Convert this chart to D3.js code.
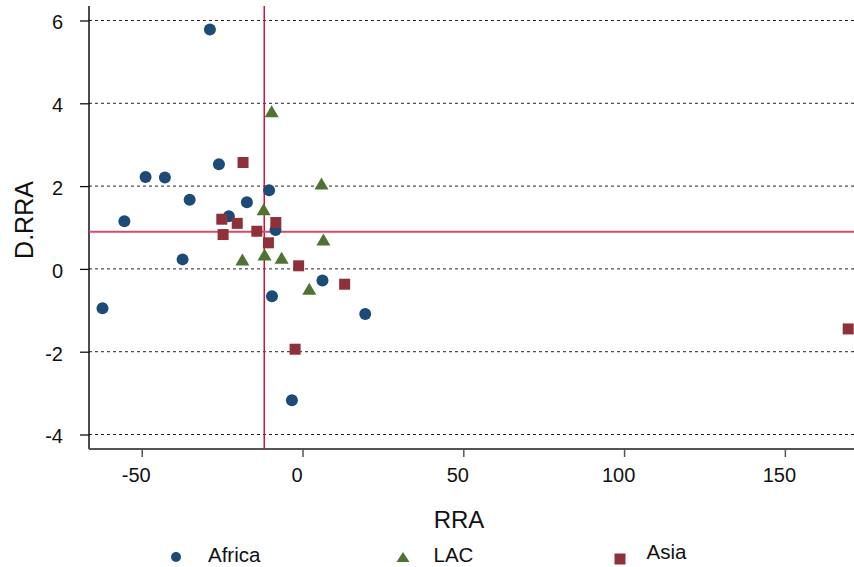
<!DOCTYPE html>
<html>
<head>
<meta charset="utf-8">
<script src="https://cdn.jsdelivr.net/npm/d3@7"></script>
<style>
  html, body { margin: 0; padding: 0; background: #fff; }
  svg { display: block; font-family: "Liberation Sans", Arial, sans-serif; }
</style>
</head>
<body>
<svg id="chart" width="854" height="567"></svg>
<script>
// ---- Data ----
const africaX = [-28.8, -26.0, -48.8, -42.8, -35.1, -55.4, -17.3, -10.4, -22.9, -8.4, -37.3, -62.2, -9.5, 6.2, 19.5, -3.3];
const africaY = [5.78, 2.53, 2.22, 2.21, 1.67, 1.15, 1.61, 1.90, 1.27, 0.94, 0.23, -0.95, -0.66, -0.28, -1.09, -3.17];

const lacX = [-9.6, 5.9, -12.1, 6.5, -18.7, -11.8, -6.5, 2.1];
const lacY = [3.81, 2.06, 1.44, 0.71, 0.23, 0.35, 0.27, -0.48];

const asiaX = [-18.5, -25.1, -20.3, -8.3, -24.7, -14.2, -10.6, -1.2, 13.1, -2.3, 169.7];
const asiaY = [2.57, 1.20, 1.10, 1.12, 0.83, 0.91, 0.63, 0.075, -0.37, -1.94, -1.45];

const xTicks = [-50, 0, 50, 100, 150];
const yTicks = [-4, -2, 0, 2, 4, 6];
const seriesNames = ["Africa", "LAC", "Asia"];
const meanRRA = -11.9;   // vertical reference line
const meanDRRA = 0.90;   // horizontal reference line

// ---- Layout ----
const svg = d3.select("#chart");
const pL = 89, pR = 854, pT = 6, pB = 449;
const x = d3.scaleLinear().domain([-66.4, 171.5]).range([pL, pR]);
const y = d3.scaleLinear().domain([-4.35, 6.35]).range([pB, pT]);

const colors = { Africa: "#1c4b78", LAC: "#4f7330", Asia: "#8f3139" };
const fmt = d => String(d);   // plain hyphen-minus like the reference

// gridlines
svg.append("g").selectAll("line").data(yTicks).join("line")
  .attr("x1", pL).attr("x2", pR)
  .attr("y1", d => y(d)).attr("y2", d => y(d))
  .attr("stroke", "#222").attr("stroke-width", 1)
  .attr("stroke-dasharray", "3,3");

// y axis
const yAxis = d3.axisLeft(y).tickValues(yTicks).tickSize(9).tickPadding(17).tickFormat(fmt);
const gy = svg.append("g").attr("transform", `translate(${pL},0)`).call(yAxis);
gy.select(".domain").remove();
gy.selectAll(".tick line").attr("stroke", "#111").attr("stroke-width", 1.3);
gy.selectAll(".tick text").attr("font-size", 20).attr("fill", "#111").attr("dy", "0.42em")
  .attr("font-family", "Liberation Sans, Arial, sans-serif");
svg.append("line").attr("x1", pL).attr("x2", pL).attr("y1", pT).attr("y2", pB)
  .attr("stroke", "#111").attr("stroke-width", 1.5);

// x axis
const xAxis = d3.axisBottom(x).tickValues(xTicks).tickSize(8).tickPadding(0).tickFormat(fmt);
const gx = svg.append("g").attr("transform", `translate(0,${pB})`).call(xAxis);
gx.select(".domain").remove();
gx.selectAll(".tick line").attr("stroke", "#555").attr("stroke-width", 1.5);
gx.selectAll(".tick text").attr("font-size", 20).attr("fill", "#111")
  .attr("font-family", "Liberation Sans, Arial, sans-serif")
  .attr("dy", null).attr("y", 33).attr("dx", -6);
svg.append("line").attr("x1", pL).attr("x2", pR).attr("y1", pB).attr("y2", pB)
  .attr("stroke", "#555").attr("stroke-width", 2.2);

// reference lines
svg.append("line").attr("x1", x(meanRRA)).attr("x2", x(meanRRA)).attr("y1", pT).attr("y2", pB)
  .attr("stroke", "#d6123c").attr("stroke-width", 1.5);
svg.append("line").attr("x1", pL).attr("x2", pR).attr("y1", y(meanDRRA)).attr("y2", y(meanDRRA))
  .attr("stroke", "#d84a6c").attr("stroke-width", 2);

// markers
const tri = (w, h) => `M0,${-h/2}L${w/2},${h/2}L${-w/2},${h/2}Z`;

svg.append("g").selectAll("circle").data(d3.zip(africaX, africaY)).join("circle")
  .attr("cx", d => x(d[0])).attr("cy", d => y(d[1])).attr("r", 6)
  .attr("fill", colors.Africa);

svg.append("g").selectAll("path").data(d3.zip(lacX, lacY)).join("path")
  .attr("d", tri(14, 12))
  .attr("transform", d => `translate(${x(d[0])},${y(d[1])})`)
  .attr("fill", colors.LAC);

svg.append("g").selectAll("rect").data(d3.zip(asiaX, asiaY)).join("rect")
  .attr("x", d => x(d[0]) - 5.5).attr("y", d => y(d[1]) - 5.5)
  .attr("width", 11).attr("height", 11)
  .attr("fill", colors.Asia);

// axis titles
svg.append("text").attr("x", 459).attr("y", 528).attr("text-anchor", "middle")
  .attr("font-size", 24).attr("fill", "#111").text("RRA");
svg.append("text").attr("transform", "translate(33,220) rotate(-90)").attr("text-anchor", "middle")
  .attr("font-size", 25).attr("fill", "#111").text("D.RRA");

// legend
const leg = svg.append("g");
leg.append("circle").attr("cx", 176).attr("cy", 557).attr("r", 5).attr("fill", colors.Africa);
leg.append("text").attr("x", 208).attr("y", 562).attr("font-size", 20.5).attr("fill", "#111").text(seriesNames[0]);
leg.append("path").attr("d", tri(13, 10)).attr("transform", "translate(403,557)").attr("fill", colors.LAC);
leg.append("text").attr("x", 433.5).attr("y", 562).attr("font-size", 20.5).attr("fill", "#111").text(seriesNames[1]);
leg.append("rect").attr("x", 614.5).attr("y", 553.5).attr("width", 11).attr("height", 11).attr("fill", colors.Asia);
leg.append("text").attr("x", 646.5).attr("y", 559).attr("font-size", 20.5).attr("fill", "#111").text(seriesNames[2]);
</script>
</body>
</html>
